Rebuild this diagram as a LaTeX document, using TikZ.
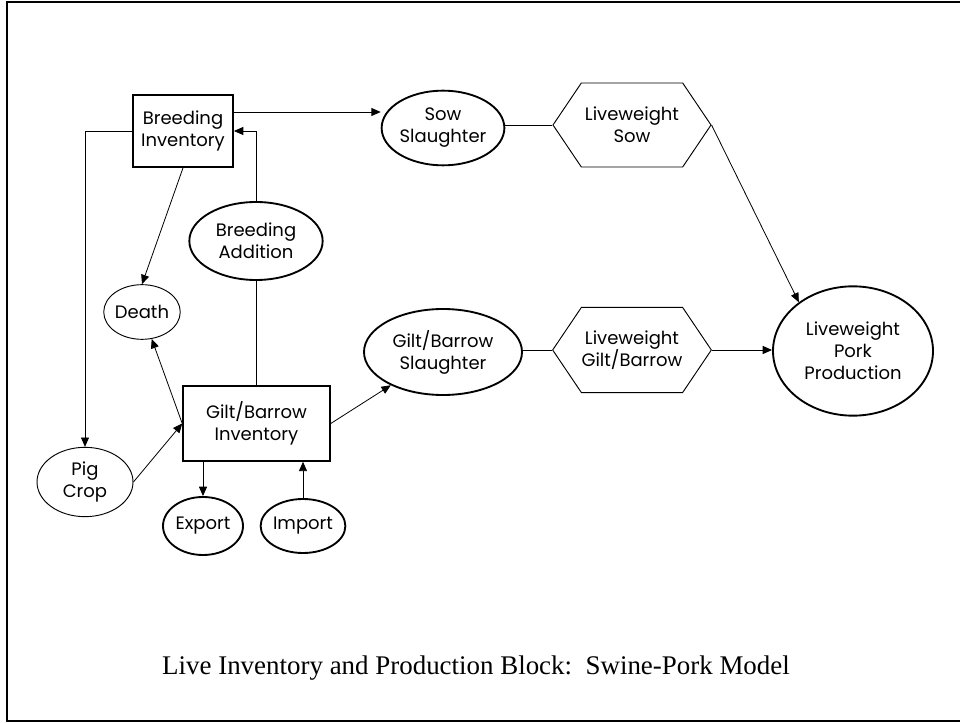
\documentclass[tikz,border=0pt]{standalone}
\usepackage{fontspec}
\setmainfont{Liberation Serif}
\newfontfamily\gothic{Poppins}
\usetikzlibrary{positioning,shapes.geometric,shapes.symbols,arrows.meta}
\newcommand{\nodefont}{\gothic\fontsize{13.5}{16.5}\selectfont}
\tikzset{
  invbox/.style={draw,rectangle,line width=1.4pt,inner sep=0pt,align=center,font=\nodefont},
  flowell/.style={draw,ellipse,line width=1.4pt,inner sep=0pt,align=center,font=\nodefont},
  thinell/.style={draw,ellipse,line width=0.7pt,inner sep=0pt,align=center,font=\nodefont},
  hexbox/.style={draw,signal,signal to=east and west,signal pointer angle=112,line width=0.7pt,inner sep=0pt,align=center,font=\nodefont},
  link/.style={line width=0.6pt}
}
\begin{document}
\begin{tikzpicture}[x=0.75pt,y=-0.75pt,>={Triangle[length=7pt,width=6pt]}]
\useasboundingbox (0,0) rectangle (960,723);
\draw[line width=1.5pt] (7,2) rectangle (975,721);

% inventory boxes
\node[invbox,minimum width=75pt,minimum height=54pt] (binv) at (183,131) {Breeding\\Inventory};
\node[invbox,minimum width=110pt,minimum height=56pt] (gbinv) at (256.5,423.5) {Gilt/Barrow\\Inventory};

% flows
\node[flowell,minimum width=90pt,minimum height=56pt] (sowsl) at (443,128) {Sow\\Slaughter};
\node[flowell,minimum width=100pt,minimum height=58.5pt] (badd) at (256,241) {Breeding\\Addition};
\node[thinell,minimum width=57pt,minimum height=41pt] (death) at (142,312) {Death};
\node[thinell,minimum width=72pt,minimum height=52pt] (pigcrop) at (85,482) {Pig\\Crop};
\node[flowell,minimum width=118.5pt,minimum height=64.5pt] (gbsl) at (443,352) {Gilt/Barrow\\Slaughter};
\node[flowell,minimum width=60pt,minimum height=43.5pt] (export) at (203,526) {Export};
\node[flowell,minimum width=60pt,minimum height=40.5pt] (import) at (303,526) {Import};
\node[flowell,minimum width=120pt,minimum height=97pt] (pork) at (853,351) {Liveweight\\Pork\\Production};

% liveweight
\node[hexbox,minimum width=118.5pt,minimum height=63pt] (lwsow) at (632,125) {Liveweight\\Sow};
\node[hexbox,minimum width=119pt,minimum height=64pt] (lwgb) at (632,350) {Liveweight\\Gilt/Barrow};

\draw[link,->] ([yshift=14.25pt]binv.east) -- ([yshift=14.25pt]binv.east -| sowsl.west);
\draw[link,->] (binv.west) -| (pigcrop.north);
\draw[link,->] (binv.south) -- (death.north);
\draw[link,->] (badd.north) |- (binv.east);
\draw[link] (badd.south) -- (badd.south |- gbinv.north);
\draw[link,->] (gbinv.west) -- (death);
\draw[link,->] (pigcrop.east) -- (gbinv.west);
\draw[link,->] (gbinv.east) -- (gbsl);
\draw[link,->] (gbinv.south -| export.north) -- (export.north);
\draw[link,->] (import.north) -- (import.north |- gbinv.south);
\draw[link] (lwsow.west) -- (lwsow.west -| sowsl.east);
\draw[link] (lwgb.west) -- (lwgb.west -| gbsl.east);
\draw[link,->] (lwsow.east) -- (pork.138);
\draw[link,->] (lwgb.east) -- (lwgb.east -| pork.west);

\node[font=\fontsize{20.2}{24}\selectfont] (caption) at (476,668) {Live Inventory and Production Block:\ \ Swine-Pork Model};
\end{tikzpicture}
\end{document}
